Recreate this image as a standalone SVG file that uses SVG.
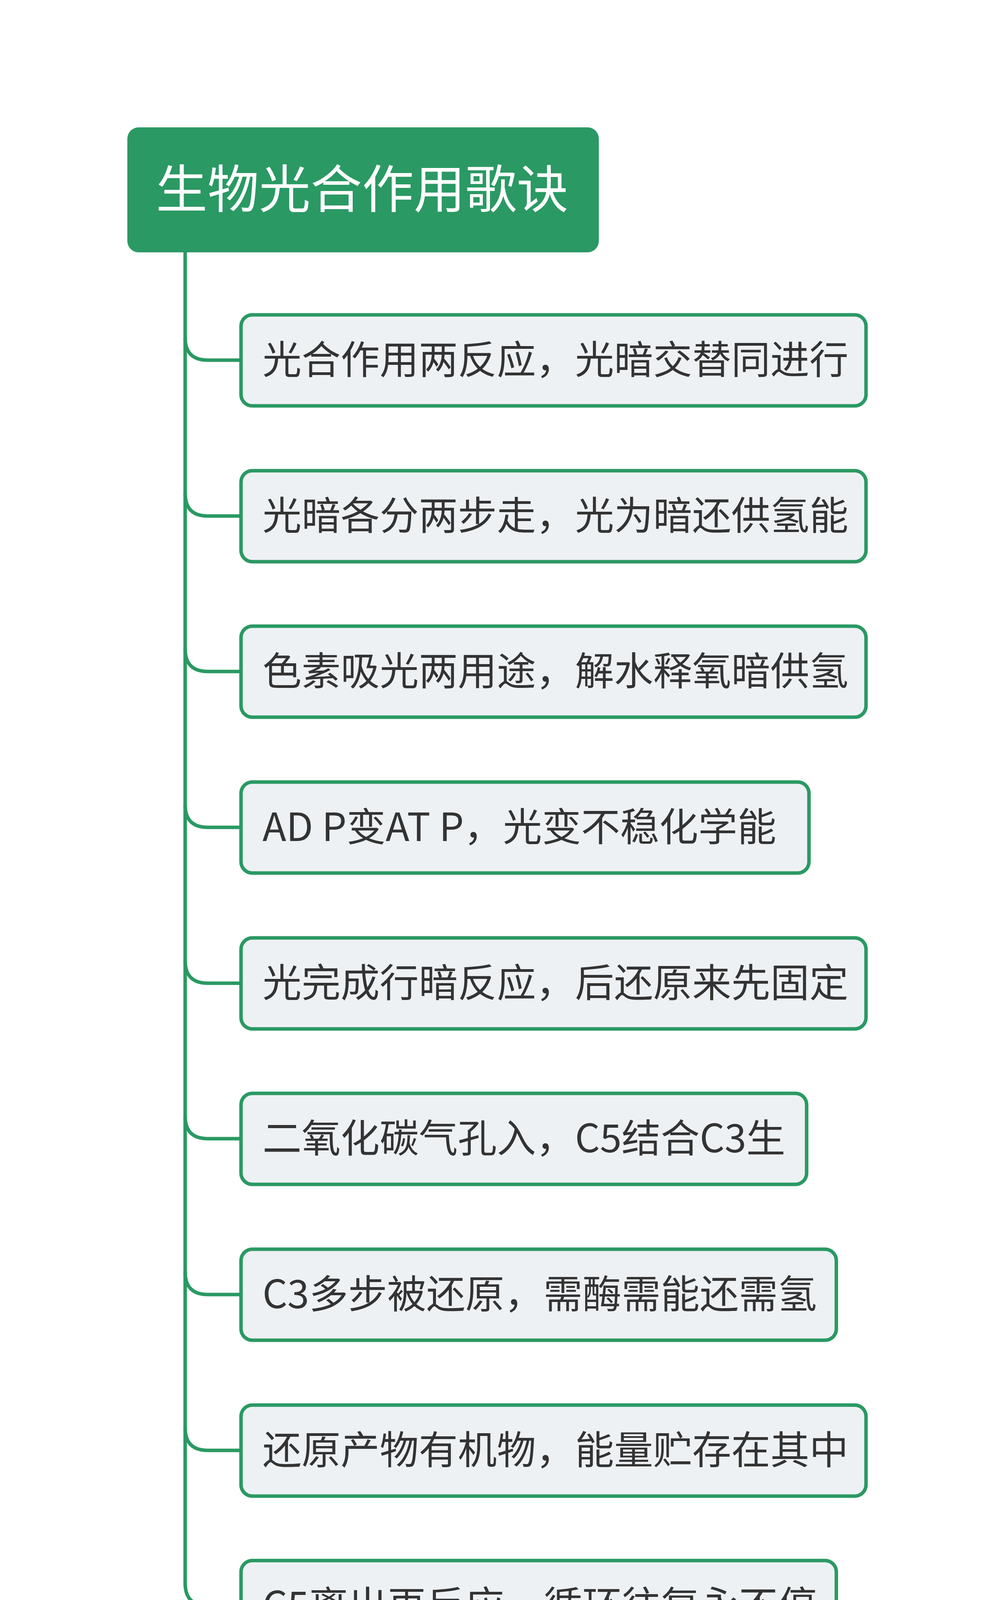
<svg xmlns="http://www.w3.org/2000/svg" width="2560" height="4586" viewBox="0 0 2560 4586">
<style>
.b{fill:#eef1f4;stroke:#2a9963;stroke-width:9}
.t{font-family:"Noto Sans CJK SC","Noto Sans",sans-serif;font-size:100px;fill:#333}
.c{fill:none;stroke:#2a9963;stroke-width:9}
</style>
<rect width="2560" height="4586" fill="#fff"/>
<g id="connectors">
<path class="c" d="M474 646V4053"/>
<path class="c" d="M474 864Q474 922 532 922H617"/>
<path class="c" d="M474 1263Q474 1321 532 1321H617"/>
<path class="c" d="M474 1661Q474 1719 532 1719H617"/>
<path class="c" d="M474 2060Q474 2118 532 2118H617"/>
<path class="c" d="M474 2459Q474 2517 532 2517H617"/>
<path class="c" d="M474 2857Q474 2915 532 2915H617"/>
<path class="c" d="M474 3256Q474 3314 532 3314H617"/>
<path class="c" d="M474 3655Q474 3713 532 3713H617"/>
<path class="c" d="M474 4053Q474 4111 532 4111H617"/>
</g>
<g id="root"><rect x="326" y="326" width="1207" height="320" rx="29" fill="#2a9963"/>
<text x="399" y="532" font-family="Noto Sans CJK SC,sans-serif" font-size="132" fill="#fff">生物光合作用歌诀</text></g>
<g id="n1"><rect class="b" x="617" y="806" width="1600" height="233" rx="29"/><text class="t" x="672" y="957">光合作用两反应，光暗交替同进行</text></g>
<g id="n2"><rect class="b" x="617" y="1205" width="1600" height="233" rx="29"/><text class="t" x="672" y="1356">光暗各分两步走，光为暗还供氢能</text></g>
<g id="n3"><rect class="b" x="617" y="1603" width="1600" height="233" rx="29"/><text class="t" x="672" y="1754">色素吸光两用途，解水释氧暗供氢</text></g>
<g id="n4"><rect class="b" x="617" y="2002" width="1454" height="233" rx="29"/><text class="t" x="672" y="2153">AD P变AT P，光变不稳化学能</text></g>
<g id="n5"><rect class="b" x="617" y="2401" width="1600" height="233" rx="29"/><text class="t" x="672" y="2552">光完成行暗反应，后还原来先固定</text></g>
<g id="n6"><rect class="b" x="617" y="2799" width="1448" height="233" rx="29"/><text class="t" x="672" y="2950">二氧化碳气孔入，C5结合C3生</text></g>
<g id="n7"><rect class="b" x="617" y="3198" width="1524" height="233" rx="29"/><text class="t" x="672" y="3349">C3多步被还原，需酶需能还需氢</text></g>
<g id="n8"><rect class="b" x="617" y="3597" width="1600" height="233" rx="29"/><text class="t" x="672" y="3748">还原产物有机物，能量贮存在其中</text></g>
<g id="n9"><rect class="b" x="617" y="3995" width="1524" height="233" rx="29"/><text class="t" x="672" y="4146">C5离出再反应，循环往复永不停</text></g>
</svg>
